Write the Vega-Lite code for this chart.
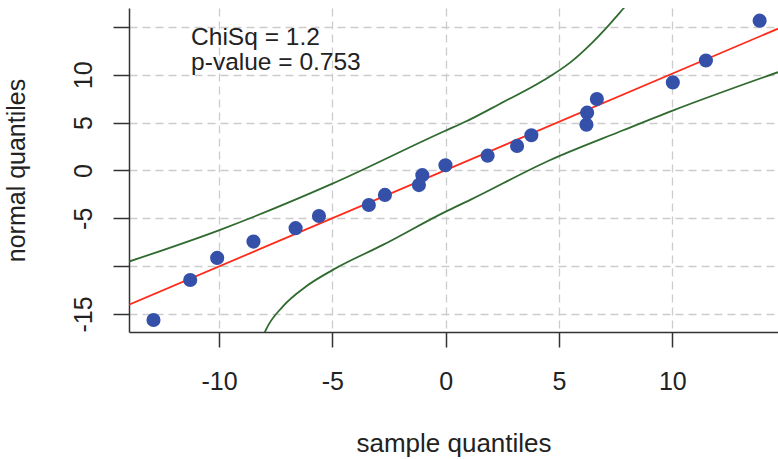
{
  "$schema": "https://vega.github.io/schema/vega-lite/v6.json",
  "width": 649,
  "height": 324,
  "autosize": {"type": "none"},
  "padding": {"left": 129, "top": 8, "right": 0, "bottom": 127},
  "background": "white",
  "config": {
    "view": {"stroke": null},
    "font": "Liberation Sans",
    "axis": {
      "domainColor": "#333333",
      "domainWidth": 1.5,
      "tickColor": "#333333",
      "tickWidth": 1.5,
      "labelFont": "Liberation Sans",
      "labelFontSize": 25,
      "labelColor": "#222222",
      "titleFont": "Liberation Sans",
      "titleFontSize": 25,
      "titleFontWeight": "normal",
      "titleColor": "#222222",
      "gridColor": "#cccccc",
      "gridDash": [8, 5],
      "gridWidth": 1.3
    }
  },
  "datasets": {
    "pts": [
      {"sample": -12.89, "normal": -15.63},
      {"sample": -11.27, "normal": -11.45},
      {"sample": -10.08, "normal": -9.14},
      {"sample": -8.48, "normal": -7.43},
      {"sample": -6.62, "normal": -6.03},
      {"sample": -5.59, "normal": -4.76},
      {"sample": -3.39, "normal": -3.61},
      {"sample": -2.68, "normal": -2.55},
      {"sample": -1.18, "normal": -1.53},
      {"sample": -1.03, "normal": -0.49},
      {"sample": -0.01, "normal": 0.55},
      {"sample": 1.85, "normal": 1.55},
      {"sample": 3.15, "normal": 2.57},
      {"sample": 3.78, "normal": 3.68},
      {"sample": 6.21, "normal": 4.79},
      {"sample": 6.24, "normal": 6.04},
      {"sample": 6.67, "normal": 7.46},
      {"sample": 10.02, "normal": 9.2},
      {"sample": 11.48, "normal": 11.49},
      {"sample": 13.85, "normal": 15.66}
    ],
    "ref": [
      {"sample": -13.97, "normal": -14.03},
      {"sample": 14.66, "normal": 14.82}
    ],
    "band": [
      {"band": "upper", "sample": -13.97, "normal": -9.52},
      {"band": "upper", "sample": -9.95, "normal": -6.2},
      {"band": "upper", "sample": -5.02, "normal": -1.4},
      {"band": "upper", "sample": -0.04, "normal": 4.13},
      {"band": "upper", "sample": 0.84, "normal": 5.06},
      {"band": "upper", "sample": 2.38, "normal": 6.95},
      {"band": "upper", "sample": 4.3, "normal": 9.4},
      {"band": "upper", "sample": 5.5, "normal": 11.3},
      {"band": "upper", "sample": 6.5, "normal": 13.45},
      {"band": "upper", "sample": 7.2, "normal": 15.2},
      {"band": "upper", "sample": 7.83, "normal": 16.9},
      {"band": "upper", "sample": 8.05, "normal": 17.5},
      {"band": "lower", "sample": -8.1, "normal": -17.6},
      {"band": "lower", "sample": -7.92, "normal": -16.6},
      {"band": "lower", "sample": -7.18, "normal": -14.2},
      {"band": "lower", "sample": -6.15, "normal": -12.1},
      {"band": "lower", "sample": -4.98, "normal": -10.39},
      {"band": "lower", "sample": -2.77, "normal": -7.78},
      {"band": "lower", "sample": 0.0, "normal": -4.3},
      {"band": "lower", "sample": 1.06, "normal": -3.1},
      {"band": "lower", "sample": 4.59, "normal": 1.07},
      {"band": "lower", "sample": 7.83, "normal": 4.2},
      {"band": "lower", "sample": 10.04, "normal": 6.28},
      {"band": "lower", "sample": 14.66, "normal": 10.27}
    ],
    "notes": [
      {"label": "ChiSq = 1.2\np-value = 0.753", "sample": -11.23, "normal": 13.1}
    ]
  },
  "encoding": {
    "x": {
      "field": "sample",
      "type": "quantitative",
      "scale": {"domain": [-13.97, 14.66], "nice": false, "zero": false},
      "axis": {
        "title": "sample quantiles",
        "titleFontSize": 26,
        "values": [-10, -5, 0, 5, 10],
        "labelExpr": "'' + datum.value",
        "grid": true,
        "tickSize": 15,
        "labelPadding": 22,
        "titlePadding": 36,
        "labelFlush": false
      }
    },
    "y": {
      "field": "normal",
      "type": "quantitative",
      "scale": {"domain": [-16.88, 16.98], "nice": false, "zero": false},
      "axis": {
        "title": "normal quantiles",
        "values": [-15, -10, -5, 0, 5, 10, 15],
        "labelExpr": "datum.value == 15 || datum.value == -10 ? '' : '' + datum.value",
        "grid": true,
        "tickSize": 16,
        "labelAngle": 270,
        "labelAlign": "center",
        "labelBaseline": "alphabetic",
        "labelPadding": 22,
        "titlePadding": 42,
        "labelFlush": false
      }
    }
  },
  "layer": [
    {
      "data": {"name": "band"},
      "mark": {"type": "line", "color": "#2f6a2f", "strokeWidth": 1.8, "clip": true, "interpolate": "monotone"},
      "encoding": {"detail": {"field": "band"}, "order": {"field": "sample", "type": "quantitative"}}
    },
    {
      "data": {"name": "ref"},
      "mark": {"type": "line", "color": "#ff2a1a", "strokeWidth": 1.8, "clip": true},
      "encoding": {}
    },
    {
      "data": {"name": "pts"},
      "mark": {"type": "point", "filled": true, "color": "#3450a8", "opacity": 1, "size": 200, "clip": true},
      "encoding": {}
    },
    {
      "data": {"name": "notes"},
      "mark": {"type": "text", "align": "left", "baseline": "alphabetic", "fontSize": 24.5, "lineBreak": "\n", "lineHeight": 24.5, "color": "#222222", "font": "Liberation Sans"},
      "encoding": {"text": {"field": "label"}}
    },
    {
      "data": {"values": [{}]},
      "mark": {"type": "rule", "color": "#333333", "strokeWidth": 1.5},
      "encoding": {"y": {"datum": 16.98}, "x": null}
    }
  ]
}
